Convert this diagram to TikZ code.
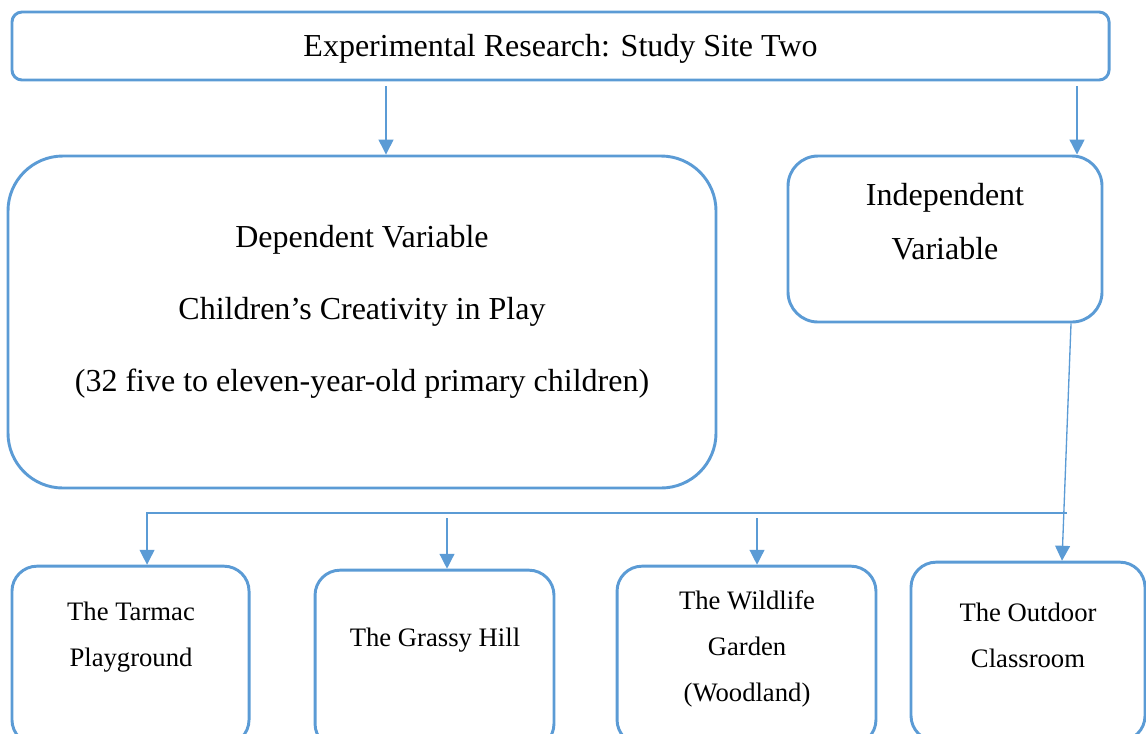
\documentclass[tikz,border=0pt]{standalone}
\usepackage{fontspec}
\setmainfont{Liberation Serif}
\usetikzlibrary{arrows.meta, positioning}
\definecolor{boxblue}{RGB}{91,155,213}
\tikzset{
    box/.style={draw=boxblue, line width=1.1pt, rounded corners=#1, inner sep=0pt},
    box/.default=3.75pt,
    link/.style={draw=boxblue, line width=0.5pt, -{Triangle[width=5.6pt, length=5.6pt]}},
    headtext/.style={align=center, font=\fontsize{12}{14}\selectfont, text height=10.5pt, text depth=2.6pt},
    sitetext/.style={align=center, font=\fontsize{10}{17.25}\selectfont}
}

\begin{document}
\begin{tikzpicture}[x=0.375pt, y=-0.375pt]
            \useasboundingbox (0,0) rectangle (1146,733);
            \clip (0,0) rectangle (1146,733);

            % ---------------- top ----------------
            \node[box, minimum width=411.4pt, minimum height=25.5pt, headtext] (top) at (560.5,46) {Experimental Research: Study Site Two};

            % ---------------- variables ----------------
            \node[box=20.6pt, minimum width=265.5pt, minimum height=124.5pt] (dep) at (362,322) {};
            \node[align=center, font=\fontsize{12}{27}\selectfont] (deptext) at (362,312)
                {Dependent Variable\\Children’s Creativity in Play\\(32 five to eleven-year-old primary children)};

            \node[box=11.25pt, minimum width=117.75pt, minimum height=62.25pt] (ind) at (945,239) {};
            \node[align=center, font=\fontsize{12}{20.25}\selectfont] (indtext) at (945,222) {Independent\\Variable};

            % ---------------- sites ----------------
            \node[box=9.4pt, minimum width=88.9pt, minimum height=67pt] (site1) at (130.5,655.5) {};
            \node[box=9.4pt, minimum width=89.6pt, minimum height=67pt] (site2) at (434.5,659.5) {};
            \node[box=9.4pt, minimum width=97.1pt, minimum height=67pt] (site3) at (746.5,655.5) {};
            \node[box=9.4pt, minimum width=87.75pt, minimum height=67pt] (site4) at (1028,651.5) {};

            \node[sitetext] (site1text) at (131,637) {The Tarmac\\Playground};
            \node[sitetext] (site2text) at (435,640) {The Grassy Hill};
            \node[sitetext] (site3text) at (747,649) {The Wildlife\\Garden\\(Woodland)};
            \node[sitetext] (site4text) at (1028,635) {The Outdoor\\Classroom};

            % ---------------- links ----------------
            \coordinate (t1) at (386,86);
            \coordinate (t2) at (1077,86);
            \draw[link] (t1) -- (t1 |- dep.north);
            \draw[link] (t2) -- (t2 |- ind.north);
            \draw[link] ([xshift=47.25pt]ind.south) -- ([xshift=12.75pt]site4.north);

            \coordinate (bar) at (1067,513);
            \coordinate (b2) at (447,518);
            \coordinate (b3) at (757,518);
            \draw[link] (bar) -| ([xshift=6.2pt]site1.north);
            \draw[link] (b2) -- (b2 |- site2.north);
            \draw[link] (b3) -- (b3 |- site3.north);
        \end{tikzpicture}
\end{document}
